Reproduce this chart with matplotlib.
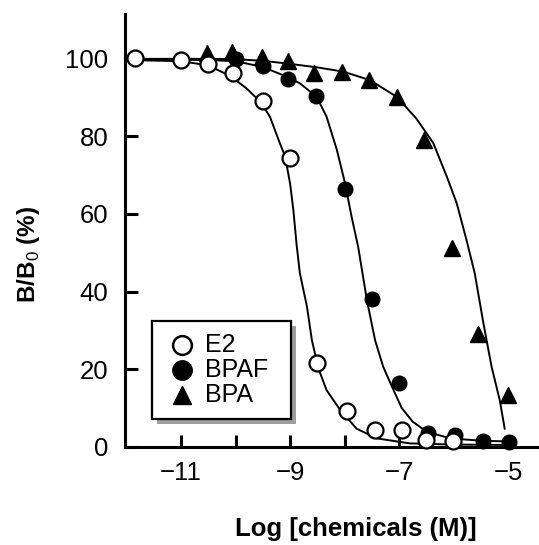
import matplotlib
matplotlib.use("Agg")
import matplotlib.pyplot as plt
from matplotlib.patches import Rectangle

plt.rcParams['font.family'] = ['Liberation Sans', 'DejaVu Sans']
plt.rcParams['mathtext.fontset'] = 'custom'
plt.rcParams['mathtext.rm'] = 'Liberation Sans'
plt.rcParams['mathtext.bf'] = 'Liberation Sans:bold'

# measured points (log M, B/B0 %)
e2_x = [-11.85, -11.0, -10.5, -10.05, -9.5, -9.0, -8.5, -7.95, -7.45, -6.95, -6.5, -6.0]
e2_y = [100, 99.5, 98.5, 96.3, 89, 74.5, 21.5, 9.3, 4.4, 4.4, 1.8, 1.5]

bpaf_x = [-10.0, -9.5, -9.03, -8.53, -8.0, -7.5, -7.0, -6.47, -5.97, -5.45, -4.98]
bpaf_y = [99.8, 98, 94.6, 90.3, 66.5, 38, 16.5, 3.6, 3.0, 1.5, 1.3]

bpa_x = [-10.53, -10.07, -9.52, -9.03, -8.56, -8.04, -7.55, -7.04, -6.54, -6.03, -5.55, -5.0]
bpa_y = [101.3, 101.7, 100.4, 99.4, 96.3, 96.6, 94.4, 90.0, 79.0, 51.2, 29.0, 13.3]

# fitted curves
e2_cx = [-12.0, -11.0, -10.5, -10.1, -9.8, -9.55, -9.37, -9.21, -9.09, -9.0, -8.94, -8.88,
         -8.82, -8.69, -8.6, -8.48, -8.33, -8.08, -7.78, -7.41, -6.8, -6.0, -5.0]
e2_cy = [99.6, 99.3, 98.2, 95.5, 92.3, 88.9, 85.0, 79.0, 74.7, 67.8, 61.0, 52.0,
         44.7, 36.1, 27.5, 20.2, 14.6, 9.5, 4.7, 2.2, 0.9, 0.6, 0.5]

bpaf_cx = [-12.0, -10.5, -10.0, -9.5, -9.06, -8.82, -8.51, -8.33, -8.14, -7.99, -7.87, -7.75,
           -7.59, -7.44, -7.29, -7.1, -6.95, -6.75, -6.49, -6.06, -5.5, -5.0]
bpaf_cy = [99.7, 99.6, 99.3, 97.8, 95.3, 93.6, 90.1, 85.0, 76.4, 67.8, 59.2, 51.5,
           37.8, 27.5, 20.6, 14.6, 10.0, 6.5, 3.9, 2.2, 1.6, 1.4]

bpa_cx = [-12.0, -10.5, -10.0, -9.5, -9.0, -8.5, -8.02, -7.53, -7.04, -6.68, -6.37, -6.12,
          -5.94, -5.76, -5.61, -5.45, -5.3, -5.15, -5.06]
bpa_cy = [99.9, 99.9, 99.8, 99.4, 98.6, 97.7, 96.6, 94.4, 90.1, 84.5, 78.2, 69.5,
          62.7, 53.2, 44.7, 31.8, 20.6, 12.0, 4.7]

legend_labels = ['E2', 'BPAF', 'BPA']

fig = plt.figure(figsize=(5.39, 5.45), dpi=100)
ax = fig.add_axes([0.232, 0.180, 0.768, 0.794])

for cx, cy in [(e2_cx, e2_cy), (bpaf_cx, bpaf_cy), (bpa_cx, bpa_cy)]:
    ax.plot(cx, cy, color='black', lw=1.4, zorder=2)

styles = [dict(marker='o', ms=11.5, mfc='white', mec='black', mew=1.6),
          dict(marker='o', ms=10.5, mfc='black', mec='black'),
          dict(marker='^', ms=11, mfc='black', mec='black')]

ax.plot(bpaf_x, bpaf_y, ls='none', clip_on=False, zorder=3, **styles[1])
ax.plot(bpa_x, bpa_y, ls='none', clip_on=False, zorder=4, **styles[2])
ax.plot(e2_x, e2_y, ls='none', clip_on=False, zorder=5, **styles[0])

ax.set_xlim(-12.03, -4.43)
ax.set_ylim(0, 111.4)
for s in ['top', 'right']:
    ax.spines[s].set_visible(False)
for s in ['left', 'bottom']:
    ax.spines[s].set_linewidth(2.2)

ax.set_xticks([-11, -10, -9, -8, -7, -6, -5])
ax.set_xticklabels(['\u221211', '', '\u22129', '', '\u22127', '', '\u22125'])
ax.set_yticks([0, 20, 40, 60, 80, 100])
ax.tick_params(direction='in', length=9, width=2.2, labelsize=18.5)
ax.tick_params(axis='y', pad=12)
ax.tick_params(axis='x', pad=10)

ax.set_ylabel(r'B/B$_0$ (%)', fontsize=17.5, fontweight='bold')
ax.set_xlabel('Log [chemicals (M)]', fontsize=18.5, fontweight='bold')
ax.yaxis.set_label_coords(-0.2, 0.446)
ax.xaxis.set_label_coords(0.558, -0.162)

# legend box with grey drop shadow
bx0, by0, bw, bh = 0.065, 0.065, 0.336, 0.226
ax.add_patch(Rectangle((bx0 + 0.012, by0 - 0.012), bw, bh, transform=ax.transAxes,
                       facecolor='0.62', edgecolor='none', zorder=6, clip_on=False))
ax.add_patch(Rectangle((bx0, by0), bw, bh, transform=ax.transAxes,
                       facecolor='white', edgecolor='black', lw=1.6, zorder=7, clip_on=False))
legend_styles = [dict(marker='o', ms=13.5, mfc='white', mec='black', mew=1.8),
                 dict(marker='o', ms=14, mfc='black', mec='black'),
                 dict(marker='^', ms=13.5, mfc='black', mec='black')]
for i, lab in enumerate(legend_labels):
    yy = 0.236 - i * 0.058
    ax.plot([0.138], [yy], transform=ax.transAxes, ls='none', zorder=8,
            clip_on=False, **legend_styles[i])
    ax.text(0.193, yy, lab, transform=ax.transAxes, fontsize=18,
            ha='left', va='center', zorder=8)

fig.savefig('out.png', dpi=100)
